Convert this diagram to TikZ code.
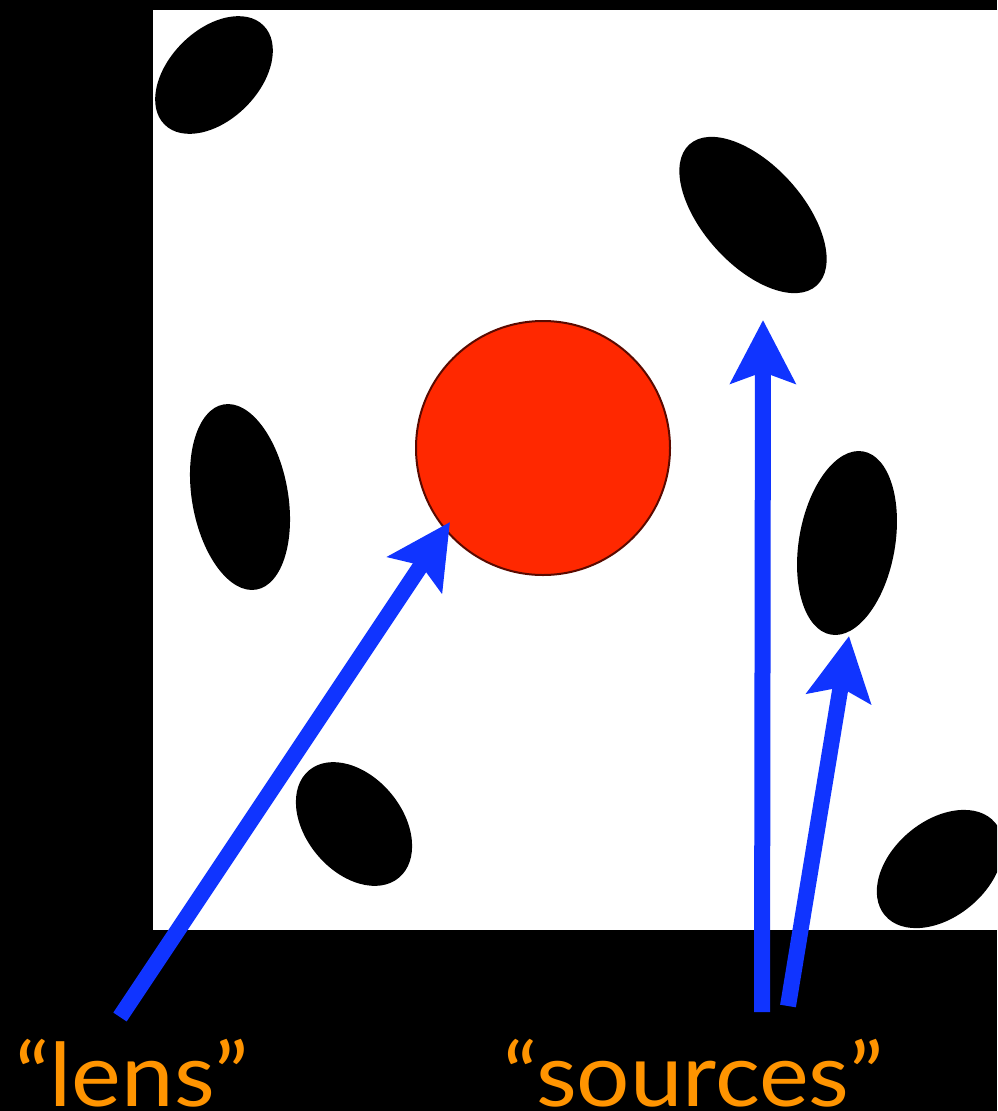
\documentclass[tikz,border=0pt]{standalone}
\usepackage{fontspec}
\newfontfamily\labelfont[FakeStretch=1.07]{Lato}
\usetikzlibrary{arrows.meta}
\definecolor{arrowblue}{RGB}{16,52,255}
\definecolor{lensred}{RGB}{255,40,0}
\definecolor{lensedge}{RGB}{90,10,0}
\definecolor{labelorange}{RGB}{255,148,0}
\begin{document}
\begin{tikzpicture}[x=1pt,y=-1pt,
  pointer/.style={draw=arrowblue, line width=16pt, -{Stealth[length=63pt,width=64pt,inset=11pt]}},
  blob/.style={fill=black},
  caption/.style={text=labelorange, font=\labelfont\fontsize{88}{90}\selectfont, inner sep=0pt, anchor=base west}]
\fill[black] (0,0) rectangle (997,1111);
\useasboundingbox (0,0) rectangle (997,1111);
\fill[white] (153,10) rectangle (997,930);
\begin{scope}
\clip (153,10) rectangle (997,930);
\fill[blob, rotate around={45:(214,75)}] (214,75) ellipse [x radius=70pt, y radius=45pt];
\fill[blob, rotate around={-48:(753,215)}] (753,215) ellipse [x radius=95pt, y radius=50pt];
\fill[blob, rotate around={100:(240,497)}] (240,497) ellipse [x radius=94pt, y radius=48pt];
\fill[blob, rotate around={80:(847,543)}] (847,543) ellipse [x radius=93pt, y radius=48pt];
\fill[blob, rotate around={-50:(354,824)}] (354,824) ellipse [x radius=70pt, y radius=48pt];
\fill[blob, rotate around={40:(940,869)}] (940,869) ellipse [x radius=72pt, y radius=48pt];
\end{scope}
\node (lens) [circle, fill=lensred, draw=lensedge, line width=2pt, minimum size=254pt, inner sep=0pt] at (543,448) {};
\coordinate (lensTail) at (120,1017);
\coordinate (lensTip) at (450,522);
\coordinate (srcTailA) at (762,1012);
\coordinate (srcTipA) at (763,320);
\coordinate (srcTailB) at (788,1006);
\coordinate (srcTipB) at (849,636);
\draw[pointer] (lensTail) -- (lensTip);
\draw[pointer] (srcTailA) -- (srcTipA);
\draw[pointer] (srcTailB) -- (srcTipB);
\node[caption] (lenslabel) at (15,1106) {“lens”};
\node[caption] (srclabel) at (503,1106) {“sources”};
\end{tikzpicture}
\end{document}
